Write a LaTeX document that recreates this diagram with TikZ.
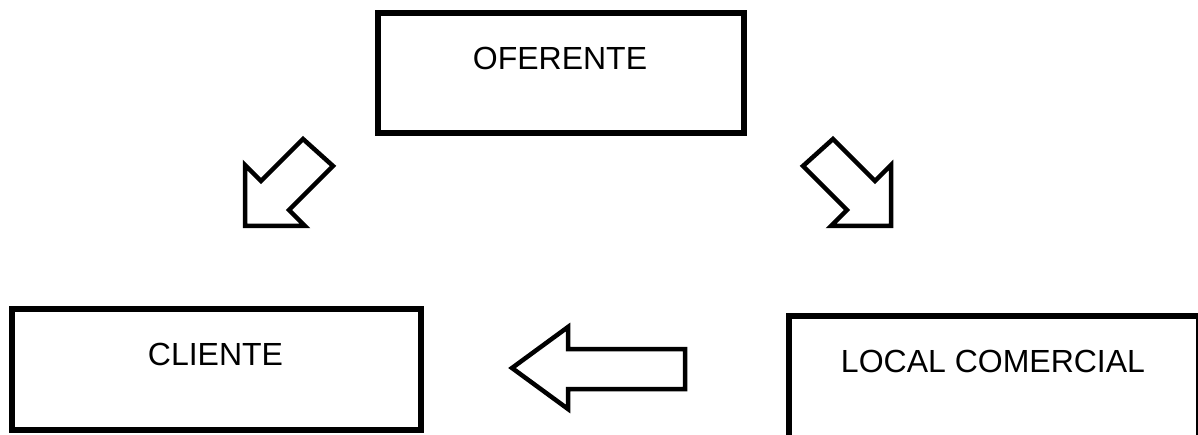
\documentclass[tikz,border=0pt]{standalone}
\usepackage{fontspec}
\setmainfont{Liberation Sans}
\begin{document}
\begin{tikzpicture}[x=1pt,y=-1pt,
  boxline/.style={draw=black,line width=6pt,line join=miter},
  blockarrow/.style={draw=black,line width=4.5pt,line join=miter,fill=white},
  lbl/.style={font=\fontsize{32}{38}\selectfont,anchor=base,inner sep=0pt}]
\useasboundingbox (0,0) rectangle (1198,435);
\fill[white] (0,0) rectangle (1198,435);
\begin{scope}
\clip (0,0) rectangle (1198,435);
% boxes
\node[boxline,rectangle,inner sep=0pt,minimum width=365.5pt,minimum height=120.5pt] (oferente) at (560.75,73.25) {};
\node[boxline,rectangle,inner sep=0pt,minimum width=409pt,minimum height=121pt] (cliente) at (216.5,369.5) {};
\node[boxline,rectangle,inner sep=0pt,minimum width=410pt,minimum height=160pt] (local) at (994,396) {};
\end{scope}
% labels
\node[lbl] (toferente) at (560,70) {OFERENTE};
\node[lbl] (tcliente) at (215.5,365) {CLIENTE};
\node[lbl] (tlocal) at (993,372) {LOCAL COMERCIAL};
% block arrows
\draw[blockarrow] (303,139) -- (261,181) -- (245,165) -- (245,226) -- (305,226) -- (289,210) -- (333,166) -- cycle;
\draw[blockarrow] (833,139) -- (875,181) -- (891,165) -- (891,226) -- (831,226) -- (847,210) -- (803,166) -- cycle;
\draw[blockarrow] (512,368) -- (568,327) -- (568,349) -- (685,349) -- (685,389) -- (568,389) -- (568,409) -- cycle;
\end{tikzpicture}
\end{document}
